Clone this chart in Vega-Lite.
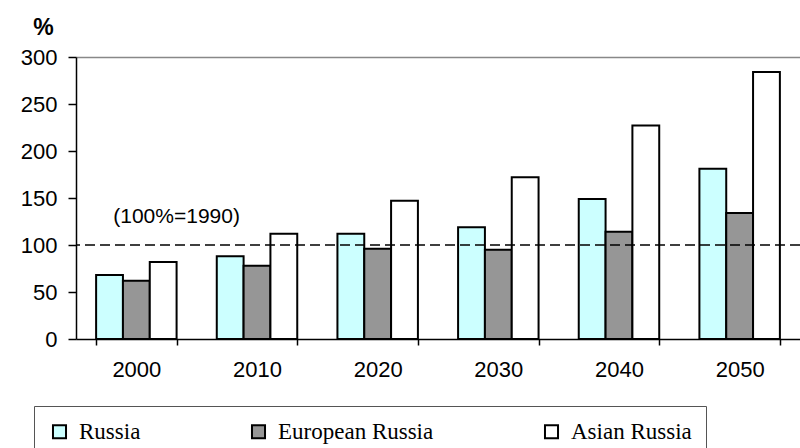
{
  "$schema": "https://vega.github.io/schema/vega-lite/v6.json",
  "autosize": {"type": "none"},
  "padding": {"left": 76, "top": 57, "right": 0, "bottom": 109},
  "width": 724,
  "height": 282,
  "background": "white",
  "config": {
    "view": {"stroke": null},
    "font": "Liberation Sans"
  },
  "datasets": {
    "bars": [
      {"year": "2000", "series": "Russia", "value": 68},
      {"year": "2000", "series": "European Russia", "value": 62},
      {"year": "2000", "series": "Asian Russia", "value": 82},
      {"year": "2010", "series": "Russia", "value": 88},
      {"year": "2010", "series": "European Russia", "value": 78},
      {"year": "2010", "series": "Asian Russia", "value": 112},
      {"year": "2020", "series": "Russia", "value": 112},
      {"year": "2020", "series": "European Russia", "value": 96},
      {"year": "2020", "series": "Asian Russia", "value": 147},
      {"year": "2030", "series": "Russia", "value": 119},
      {"year": "2030", "series": "European Russia", "value": 95},
      {"year": "2030", "series": "Asian Russia", "value": 172},
      {"year": "2040", "series": "Russia", "value": 149},
      {"year": "2040", "series": "European Russia", "value": 114},
      {"year": "2040", "series": "Asian Russia", "value": 227},
      {"year": "2050", "series": "Russia", "value": 181},
      {"year": "2050", "series": "European Russia", "value": 134},
      {"year": "2050", "series": "Asian Russia", "value": 284}
    ],
    "ref": [{"value": 100}],
    "note": [{"year": "2000", "value": 123, "label": "(100%=1990)"}]
  },
  "layer": [
    {
      "data": {"name": "bars"},
      "mark": {"type": "bar", "stroke": "black", "strokeWidth": 2},
      "encoding": {
        "x": {
          "field": "year", "type": "nominal", "title": null,
          "scale": {"paddingInner": 0.333, "paddingOuter": 0.1667},
          "axis": {
            "labelAngle": 0, "labelFontSize": 22, "labelColor": "black",
            "labelPadding": 14, "tickBand": "extent", "tickSize": 6,
            "tickColor": "black", "tickWidth": 1.5,
            "domainColor": "black", "domainWidth": 1.5
          }
        },
        "xOffset": {
          "field": "series", "type": "nominal",
          "sort": ["Russia", "European Russia", "Asian Russia"],
          "scale": {"paddingInner": 0, "paddingOuter": 0}
        },
        "y": {
          "field": "value", "type": "quantitative",
          "scale": {"domain": [0, 300], "nice": false},
          "axis": {
            "values": [0, 50, 100, 150, 200, 250, 300],
            "labelFontSize": 22, "labelColor": "black", "labelPadding": 11,
            "tickSize": 8, "tickColor": "black", "tickWidth": 1.5,
            "domainColor": "black", "domainWidth": 1.5,
            "grid": true,
            "gridColor": {"condition": {"test": "datum.value === 300", "value": "#888888"}, "value": "transparent"},
            "gridWidth": 1.5,
            "title": "%", "titleAngle": 0, "titleFontSize": 23, "titleFontWeight": "bold",
            "titleColor": "black", "titleX": -33, "titleY": -23,
            "titleAlign": "center", "titleBaseline": "alphabetic"
          }
        },
        "color": {
          "field": "series", "type": "nominal",
          "sort": ["Russia", "European Russia", "Asian Russia"],
          "scale": {"domain": ["Russia", "European Russia", "Asian Russia"], "range": ["#CCFFFF", "#969696", "#FFFFFF"]},
          "legend": {
            "title": null, "orient": "none", "direction": "horizontal", "columns": 3,
            "legendX": -42, "legendY": 349, "padding": 14,
            "strokeColor": "#555555", "fillColor": "white",
            "symbolType": "square", "symbolSize": 170,
            "symbolStrokeColor": "black", "symbolStrokeWidth": 2, "symbolOpacity": 1,
            "labelFont": "Liberation Serif", "labelFontSize": 23, "labelColor": "black",
            "labelOffset": 8, "columnPadding": 106, "gridAlign": "each", "labelLimit": 400
          }
        }
      }
    },
    {
      "data": {"name": "ref"},
      "mark": {"type": "rule", "stroke": "black", "strokeWidth": 1.5, "strokeDash": [10, 5]},
      "encoding": {"y": {"field": "value", "type": "quantitative"}}
    },
    {
      "data": {"name": "note"},
      "mark": {"type": "text", "fontSize": 21, "align": "center", "baseline": "alphabetic", "color": "black"},
      "encoding": {
        "x": {"field": "year", "type": "nominal", "bandPosition": 1},
        "y": {"field": "value", "type": "quantitative"},
        "text": {"field": "label"}
      }
    }
  ]
}
